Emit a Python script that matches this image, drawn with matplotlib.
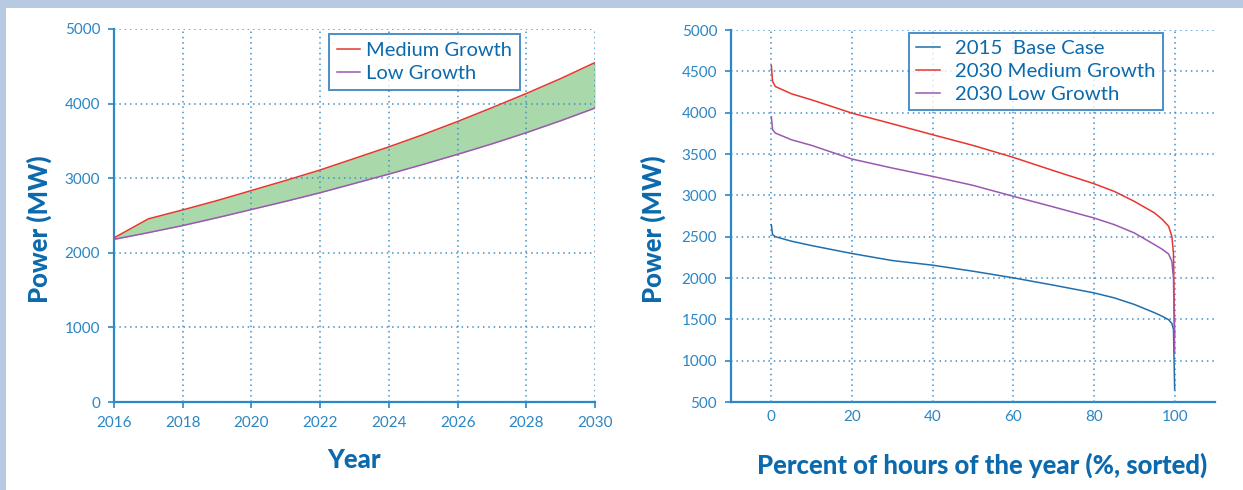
import matplotlib.pyplot as plt
from matplotlib.patches import Rectangle

plt.rcParams['font.family'] = ['Lato', 'DejaVu Sans']

# left panel: peak demand projection
years = [2016, 2017, 2018, 2019, 2020, 2021, 2022, 2023, 2024, 2025, 2026, 2027, 2028, 2029, 2030]
medium_growth = [2200, 2455, 2575, 2700, 2835, 2970, 3110, 3265, 3420, 3585, 3760, 3945, 4135, 4335, 4550]
low_growth = [2180, 2270, 2365, 2470, 2580, 2690, 2805, 2930, 3055, 3185, 3320, 3460, 3610, 3770, 3940]

# right panel: load duration curves
pct_hours = [0, 0.3, 1, 5, 10, 20, 30, 40, 50, 60, 70, 80, 85, 90, 95, 97, 98.5, 99.3, 99.7, 100]
base_2015 = [2645, 2525, 2500, 2445, 2392, 2296, 2211, 2155, 2082, 2002, 1913, 1820, 1760, 1680, 1580, 1535, 1495, 1450, 1380, 650]
medium_2030 = [4570, 4380, 4316, 4228, 4155, 3994, 3865, 3733, 3604, 3459, 3298, 3141, 3048, 2927, 2787, 2706, 2626, 2505, 2300, 1300]
low_2030 = [3950, 3795, 3753, 3672, 3604, 3439, 3330, 3229, 3121, 2988, 2859, 2726, 2646, 2545, 2404, 2345, 2290, 2203, 2000, 1100]

tick_col = '#2a86c4'
label_col = '#0b6aad'
grid_col = '#3a92cf'
red = '#e8352e'
purple = '#9c58b0'
blue = '#1f6fae'
band = '#b8cae1'

fig = plt.figure(figsize=(12.43, 4.9), dpi=100, facecolor='white')
# light blue frame on top and left
fig.add_artist(Rectangle((0, (490 - 8) / 490), 1, 8 / 490, transform=fig.transFigure,
                         facecolor=band, edgecolor='none'))
fig.add_artist(Rectangle((0, 0), 6 / 1243, 1, transform=fig.transFigure,
                         facecolor=band, edgecolor='none'))


def style_axes(ax):
    for s in ['top', 'right']:
        ax.spines[s].set_visible(False)
    for s in ['left', 'bottom']:
        ax.spines[s].set_color(tick_col)
        ax.spines[s].set_linewidth(1.6)
    ax.grid(True, linestyle=(0, (1, 2.5)), color=grid_col, linewidth=1.1)
    ax.set_axisbelow(False)
    ax.tick_params(colors=tick_col, labelcolor=tick_col, labelsize=11, length=4, width=1.2, pad=6)


def style_legend(leg):
    leg.get_frame().set_edgecolor('#1f74b8')
    leg.get_frame().set_linewidth(1.4)


ax1 = fig.add_axes([114 / 1243, 88 / 490, 481 / 1243, 373 / 490])
ax1.fill_between(years, low_growth, medium_growth, color='#a9d9aa', zorder=1, linewidth=0)
ax1.plot(years, medium_growth, color=red, lw=1.1, label='Medium Growth', zorder=3)
ax1.plot(years, low_growth, color=purple, lw=1.1, label='Low Growth', zorder=3)
ax1.set_xlim(2016, 2030)
ax1.set_ylim(0, 5000)
ax1.set_xticks(range(2016, 2031, 2))
ax1.set_yticks(range(0, 5001, 1000))
style_axes(ax1)
ax1.set_xlabel('Year', fontsize=18.5, fontweight='black', color=label_col, labelpad=13)
ax1.set_ylabel('Power (MW)', fontsize=18.5, fontweight='black', color=label_col)
ax1.yaxis.set_label_coords(-0.129, 0.464)
leg1 = ax1.legend(loc='upper left', bbox_to_anchor=(0.447, 0.987), borderaxespad=0,
                  fontsize=14.5, frameon=True, fancybox=False, handlelength=1.15,
                  borderpad=0.4, labelspacing=0.3, handletextpad=0.3, labelcolor=label_col)
style_legend(leg1)

ax2 = fig.add_axes([731 / 1243, 88 / 490, 484 / 1243, 372 / 490])
ax2.plot(pct_hours, base_2015, color=blue, lw=1.1, label='2015  Base Case', zorder=3)
ax2.plot(pct_hours, medium_2030, color=red, lw=1.1, label='2030 Medium Growth', zorder=3)
ax2.plot(pct_hours, low_2030, color=purple, lw=1.1, label='2030 Low Growth', zorder=3)
ax2.set_xlim(-10, 110)
ax2.set_ylim(500, 5000)
ax2.set_xticks(range(0, 101, 20))
ax2.set_yticks(range(500, 5001, 500))
style_axes(ax2)
ax2.tick_params(axis='x', length=0)
ax2.set_xlabel('Percent of hours of the year (%, sorted)', fontsize=18.5, fontweight='black',
               color=label_col)
ax2.xaxis.set_label_coords(0.519, -0.135)
ax2.set_ylabel('Power (MW)', fontsize=18.5, fontweight='black', color=label_col)
ax2.yaxis.set_label_coords(-0.134, 0.465)
leg2 = ax2.legend(loc='upper left', bbox_to_anchor=(0.368, 0.992), borderaxespad=0,
                  fontsize=14.7, frameon=True, fancybox=False, handlelength=1.15,
                  borderpad=0.35, labelspacing=0.27, handletextpad=0.75, labelcolor=label_col)
style_legend(leg2)

fig.savefig('out.png', dpi=100)
